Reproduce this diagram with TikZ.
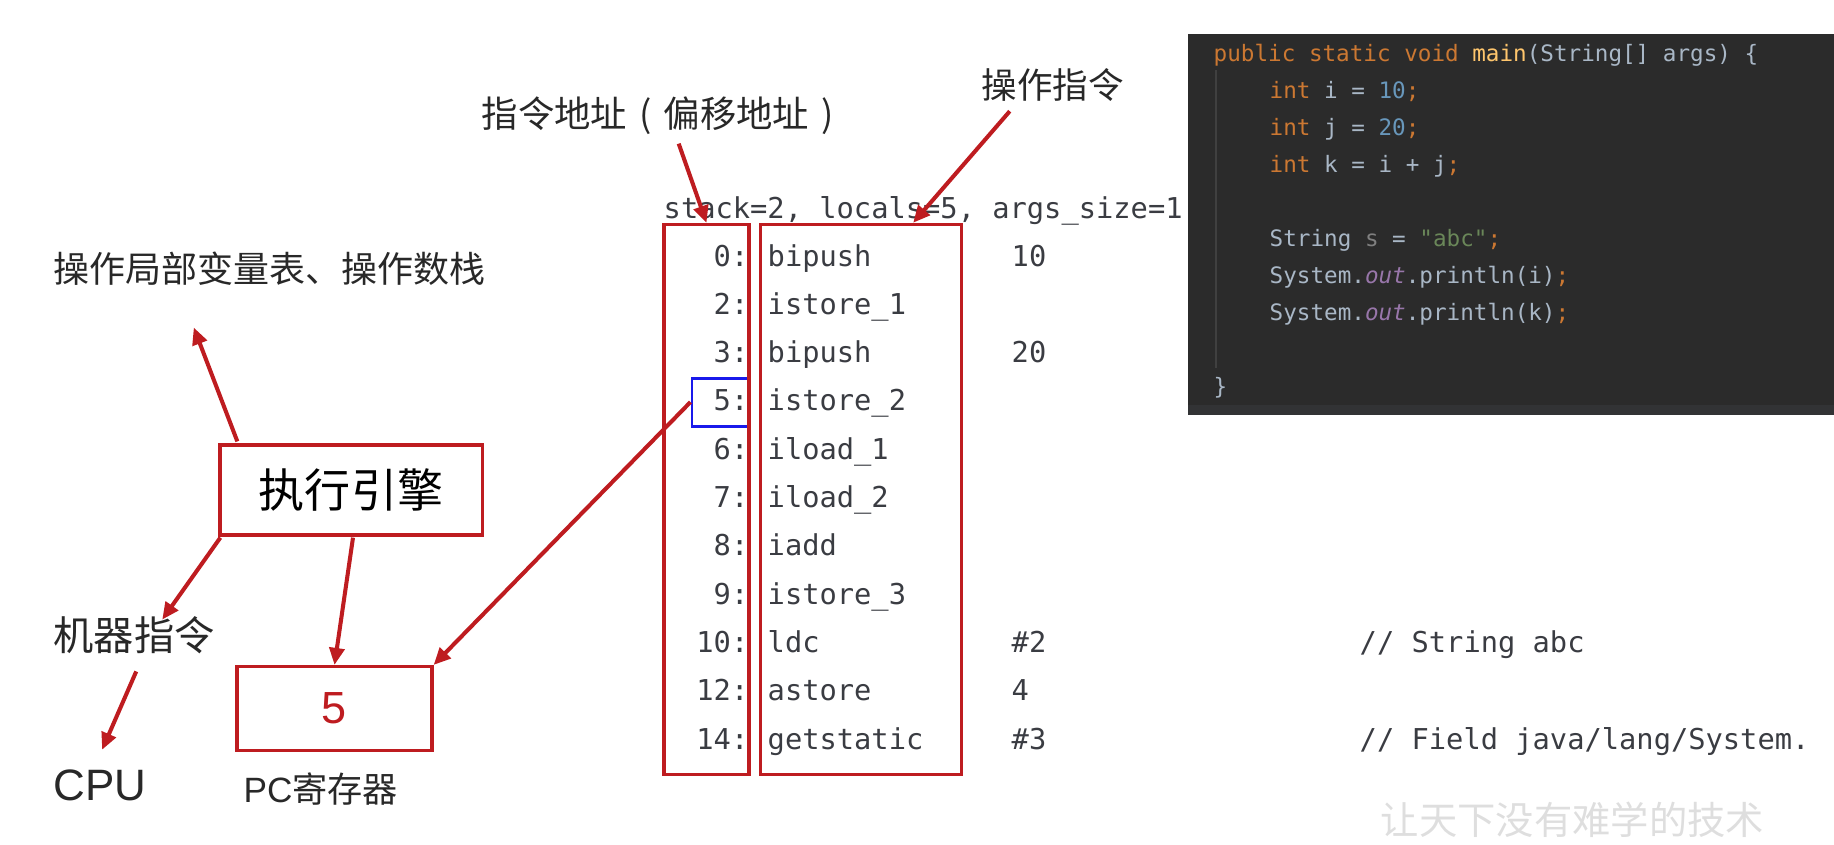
\documentclass[tikz,border=0pt]{standalone}
\usepackage{fontspec}
\setmainfont{Liberation Sans}
\setmonofont{DejaVu Sans Mono}
\newfontfamily\cjk{Noto Sans CJK SC}
\usetikzlibrary{arrows.meta,calc}
\definecolor{jvmred}{RGB}{190,28,32}
\definecolor{pcblue}{RGB}{25,25,235}
\definecolor{bctext}{RGB}{58,60,66}
\definecolor{lbltext}{RGB}{40,40,40}
\definecolor{wmark}{RGB}{222,222,222}
\definecolor{darcbg}{RGB}{43,43,43}
\definecolor{darcbar}{RGB}{50,51,53}
\definecolor{darcguide}{RGB}{64,64,64}
\definecolor{darcfg}{RGB}{169,183,198}
\definecolor{darckw}{RGB}{204,120,50}
\definecolor{darcnum}{RGB}{104,151,187}
\definecolor{darcstr}{RGB}{106,135,89}
\definecolor{darcfn}{RGB}{255,198,109}
\definecolor{darcfld}{RGB}{152,118,170}
\definecolor{darcvar}{RGB}{128,128,128}
\newcommand{\Kw}[1]{\textcolor{darckw}{#1}}
\newcommand{\Num}[1]{\textcolor{darcnum}{#1}}
\newcommand{\Str}[1]{\textcolor{darcstr}{#1}}
\newcommand{\Fld}[1]{\textcolor{darcfld}{\itshape #1}}
\newcommand{\Paren}[1]{\makebox[1em][c]{#1}}

\begin{document}
\begin{tikzpicture}[x=0.01cm, y=-0.01cm,
    redbox/.style={draw=jvmred, line width=0.9pt, inner sep=0pt},
    arr/.style={draw=jvmred, line width=1.15pt, -{Triangle[length=0.17cm,width=0.15cm]}},
    lbl/.style={anchor=west, inner sep=0pt, text=lbltext},
    bc/.style={inner sep=0pt, text=bctext, font=\ttfamily\fontsize{8.17pt}{10pt}\selectfont},
    code/.style={anchor=base west, inner sep=0pt, text=darcfg, font=\ttfamily\fontsize{6.43pt}{8pt}\selectfont}]
    \useasboundingbox (0,0) rectangle (1834,844);

    \fill[darcbg] (1188,34) rectangle (1834,415);
    \fill[darcbar] (1188,405) rectangle (1834,415);
    \draw[darcguide, line width=0.4pt] (1216,70) -- (1216,368);
    \node[code] (c1) at (1213,61) {\Kw{public static void} \textcolor{darcfn}{main}(String[] args) \{};
    \node[code] (c2) at (1269,98) {\Kw{int} i = \Num{10}\Kw{;}};
    \node[code] (c3) at (1269,135) {\Kw{int} j = \Num{20}\Kw{;}};
    \node[code] (c4) at (1269,172) {\Kw{int} k = i + j\Kw{;}};
    \node[code] (c6) at (1269,246) {String \textcolor{darcvar}{s} = \Str{"abc"}\Kw{;}};
    \node[code] (c7) at (1269,283) {System.\Fld{out}.println(i)\Kw{;}};
    \node[code] (c8) at (1269,320) {System.\Fld{out}.println(k)\Kw{;}};
    \node[code] (c10) at (1213,394) {\}};

    \node[bc, anchor=base west] (stk) at (663,218) {stack=2, locals=5, args\_size=1};
    \foreach \ad/\ins [count=\r from 0] in {0/bipush, 2/istore\_1, 3/bipush, 5/istore\_2,
        6/iload\_1, 7/iload\_2, 8/iadd, 9/istore\_3, 10/ldc, 12/astore, 14/getstatic} {
      \node[bc, anchor=base east] (ad\r) at (749,266+48.3*\r) {\ad:};
      \node[bc, anchor=base west] (in\r) at (767,266+48.3*\r) {\ins};
    }
    \foreach \r/\arg in {0/10, 2/20, 8/\#2, 9/4, 10/\#3}
      \node[bc, anchor=base west] (ag\r) at (1011,266+48.3*\r) {\arg};
    \node[bc, anchor=base west] (cm8) at (1359,266+48.3*8) {// String abc};
    \node[bc, anchor=base west] (cm10) at (1359,266+48.3*10) {// Field java/lang/System.};

    \node[draw=pcblue, line width=0.85pt, inner sep=0pt, minimum width=0.56cm,
          minimum height=0.48cm] (cur) at (720,402) {};
    \node[redbox, minimum width=0.85cm, minimum height=5.5cm] (addr) at (706.5,499.5) {};
    \node[redbox, minimum width=2.01cm, minimum height=5.5cm] (ops) at (861,499.5) {};

    \node[lbl, font=\cjk\fontsize{10.35pt}{12pt}\selectfont] (addrLbl) at (481,116) {指令地址\Paren{(}偏移地址\Paren{)}};
    \node[lbl, font=\cjk\fontsize{10.1pt}{12pt}\selectfont] (opLbl) at (981,85) {操作指令};
    \node[lbl, font=\cjk\fontsize{10.24pt}{12pt}\selectfont] (loc) at (53,269) {操作局部变量表、操作数栈};
    \node[redbox, minimum width=2.62cm, minimum height=0.9cm, text=black,
          font=\cjk\fontsize{13.1pt}{15pt}\selectfont] (eng) at (351,490) {执行引擎};
    \node[lbl, font=\cjk\fontsize{11.45pt}{13pt}\selectfont] (mach) at (53,635) {机器指令};
    \node[lbl, font=\fontsize{12.5pt}{14pt}\selectfont] (cpu) at (53,785) {CPU};
    \node[redbox, minimum width=1.95cm, minimum height=0.84cm, text=jvmred,
          font=\fontsize{12.8pt}{14pt}\selectfont] (pc) at (334.5,708.5) {5};
    \node[lbl, font=\fontsize{10pt}{12pt}\selectfont] (pcLbl) at (243,789) {PC{\cjk 寄存器}};
    \node[lbl, text=wmark, font=\cjk\fontsize{10.9pt}{13pt}\selectfont] (wm) at (1380,820) {让天下没有难学的技术};

    \draw[arr] ($(addrLbl.south)+(15,8)$) -- (addr.north);
    \draw[arr] ($(opLbl.south)+(-43,9)$) -- ($(ops.north east)+(-50,0)$);
    \draw[arr] ($(eng.north west)+(19,-2)$) -- ($(loc.south)+(-76,41)$);
    \draw[arr] ($(eng.south west)+(2,1)$) -- ($(mach.north)+(28,4)$);
    \draw[arr] ($(eng.south)+(2,1)$) -- (pc.north);
    \draw[arr] ($(mach.south)+(2,17)$) -- ($(cpu.north)+(2,-19)$);
    \draw[arr] (cur.west) -- (pc.north east);
  \end{tikzpicture}
\end{document}
